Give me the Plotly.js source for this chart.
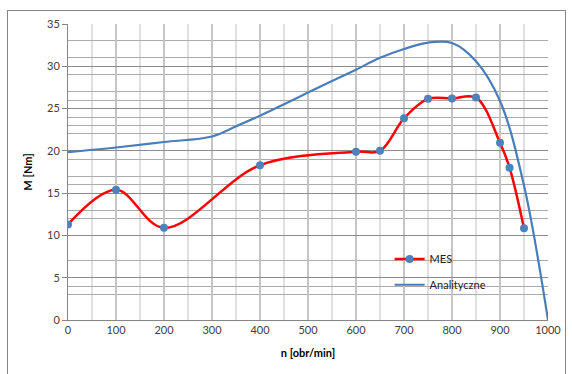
<!DOCTYPE html>
<html>
<head>
<meta charset="utf-8">
<script src="https://cdn.plot.ly/plotly-3.0.1.min.js"></script>
<style>
  html, body { margin: 0; padding: 0; background: #fff; overflow: hidden; }
  #wrap { position: relative; width: 572px; height: 374px; }
  #chart { position: absolute; left: 0; top: 0; width: 572px; height: 374px; }
  #frame { position: absolute; left: 7px; top: 10px; width: 557px; height: 372px;
           border: 1px solid #868686; pointer-events: none; }
</style>
</head>
<body>
<div id="wrap">
  <div id="chart"></div>
  <div id="frame"></div>
</div>
<script>
// ---- data ----
const mesSpeed  = [0, 100, 200, 400, 600, 650, 700, 750, 800, 850, 900, 920, 950];
const mesTorque = [11.3, 15.4, 10.9, 18.3, 19.9, 20.0, 23.85, 26.15, 26.2, 26.3, 20.95, 18.0, 10.85];

const anSpeed  = [0, 100, 200, 300, 350, 400, 450, 500, 550, 600, 650, 700, 750, 800, 850, 900, 950, 1000];
const anTorque = [19.85, 20.4, 21.05, 21.7, 22.9, 24.15, 25.5, 26.9, 28.25, 29.6, 31.0, 32.05, 32.8, 32.75, 30.6, 25.9, 15.9, 0];

const seriesNames = ["MES", "Analityczne"];
const xTitle = "n [obr/min]";
const yTitle = "M [Nm]";
const xTicks = [0, 100, 200, 300, 400, 500, 600, 700, 800, 900, 1000];
const yTicks = [0, 5, 10, 15, 20, 25, 30, 35];
const yGridMajor = [0, 5, 10, 15, 20, 25, 30];
const yGridMinor = [3, 4, 7, 12, 13, 16, 17, 19, 22, 23, 24, 26, 27, 29, 31, 33];

const FONT = "Lato, 'Open Sans', sans-serif";

const traces = [
  {
    x: mesSpeed, y: mesTorque, name: seriesNames[0],
    type: "scatter", mode: "lines+markers",
    line: { color: "#ff0000", width: 2.5, shape: "spline", smoothing: 1 },
    marker: { color: "#4f81bd", size: 8 },
    legend: "legend"
  },
  {
    x: anSpeed, y: anTorque, name: seriesNames[1],
    type: "scatter", mode: "lines",
    line: { color: "#4a7ebb", width: 2.2, shape: "spline", smoothing: 1 },
    legend: "legend2"
  }
];

const layout = {
  width: 572, height: 374,
  margin: { l: 68, r: 24, t: 24, b: 54 },
  paper_bgcolor: "#ffffff",
  plot_bgcolor: "#ffffff",
  font: { family: FONT, size: 11, color: "#333333" },
  showlegend: true,
  xaxis: {
    range: [0, 1000],
    tickmode: "array", tickvals: xTicks,
    showgrid: true, gridcolor: "#c4c4c4", gridwidth: 1.5,
    minor: { dtick: 50, tick0: 0, showgrid: true, gridcolor: "#e0e0e0", gridwidth: 1.5 },
    showline: true, linecolor: "#868686", linewidth: 1,
    ticks: "", zeroline: false,
    tickfont: { family: FONT, size: 11, color: "#404040" },
    title: { text: xTitle, font: { family: FONT, size: 11, color: "#000000", weight: "bold" }, standoff: 14 },
    fixedrange: true
  },
  yaxis: {
    range: [0, 35],
    tickmode: "array", tickvals: yGridMajor,
    showticklabels: false,
    showgrid: true, gridcolor: "#8c8c8c", gridwidth: 1,
    minor: { tickmode: "array", tickvals: yGridMinor, showgrid: true, gridcolor: "#ababab", gridwidth: 1 },
    showline: true, linecolor: "#868686", linewidth: 1,
    ticks: "", zeroline: false,
    fixedrange: true
  },
  yaxis2: {
    overlaying: "y", side: "left", anchor: "x",
    range: [0, 35],
    tickmode: "array", tickvals: yTicks,
    showgrid: false, zeroline: false, showline: false,
    ticks: "outside", ticklen: 5, tickcolor: "#868686",
    tickfont: { family: FONT, size: 11, color: "#404040" },
    title: { text: yTitle, font: { family: FONT, size: 11, color: "#000000", weight: "bold" }, standoff: 12 },
    fixedrange: true
  },
  legend: {
    x: 0.67, y: 0.255, xanchor: "left", yanchor: "top",
    bgcolor: "rgba(0,0,0,0)",
    font: { family: FONT, size: 11, color: "#222222" }
  },
  legend2: {
    x: 0.67, y: 0.168, xanchor: "left", yanchor: "top",
    bgcolor: "rgba(0,0,0,0)",
    font: { family: FONT, size: 11, color: "#222222" }
  }
};

// an invisible helper trace so yaxis2 is drawn (no visible marks)
traces.push({ x: [0], y: [0], yaxis: "y2", type: "scatter", mode: "markers",
  marker: { opacity: 0 }, showlegend: false, hoverinfo: "skip" });

Plotly.newPlot("chart", traces, layout, { displayModeBar: false, staticPlot: true });
</script>
</body>
</html>
